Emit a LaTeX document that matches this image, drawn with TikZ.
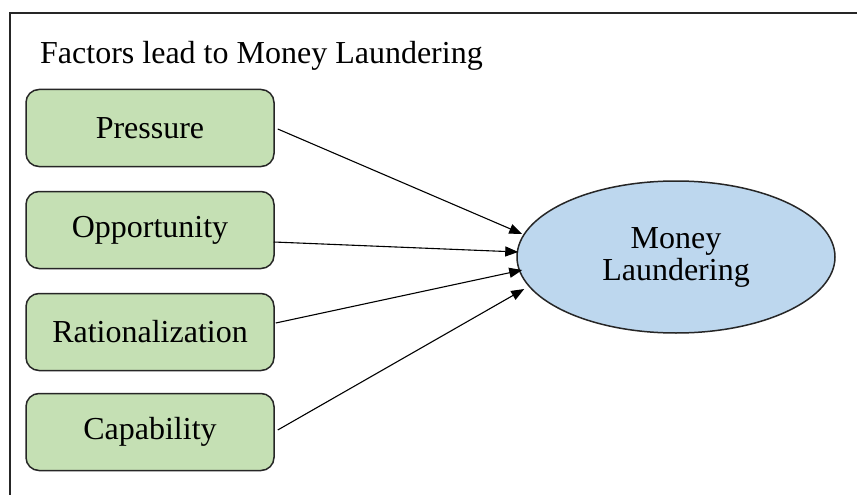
\documentclass[tikz,border=0pt]{standalone}
\usepackage{fontspec}
\setmainfont{Liberation Serif}
\usetikzlibrary{shapes.geometric,arrows.meta}
\definecolor{boxgreen}{HTML}{C5E0B4}
\definecolor{ellblue}{HTML}{BDD7EE}
\definecolor{edge}{HTML}{262626}
\tikzset{
  factor/.style={draw=edge, line width=1.5pt, fill=boxgreen, rounded corners=13pt,
    minimum width=248pt, minimum height=77pt, inner sep=0pt, font=\fontsize{32}{36}\selectfont},
  target/.style={ellipse, draw=edge, line width=1.5pt, fill=ellblue,
    minimum width=318pt, minimum height=152pt, inner sep=0pt, align=center,
    font=\fontsize{32}{32}\selectfont},
  link/.style={line width=1.1pt, black, -{Triangle[length=13pt,width=10pt]}}
}
\begin{document}
\begin{tikzpicture}[x=1pt,y=-1pt]
\useasboundingbox (0,0) rectangle (857,495);
\fill[white] (0,0) rectangle (857,495);
\draw[line width=2pt, edge] (857,13) -- (10,13) -- (10,495);
\node[anchor=base west, font=\fontsize{32}{36}\selectfont, inner sep=0pt] (title) at (40,64) {Factors lead to Money Laundering};
\node[factor] (p) at (150,128) {Pressure};
\node[factor] (o) at (150,230) {Opportunity};
\node[factor] (r) at (150,332) {Rationalization};
\node[factor] (c) at (150,432) {Capability};
\node[target] (ml) at (676,257) {Money\\Laundering};
\draw[link] ([shift={(3pt,-1pt)}]p.east) -- ([shift={(6pt,23pt)}]ml.west);
\draw[link] ([shift={(-1pt,-12pt)}]o.east) -- ([shift={(2pt,5pt)}]ml.west);
\draw[link] ([shift={(1pt,9pt)}]r.east) -- ([shift={(6pt,-13pt)}]ml.west);
\draw[link] ([shift={(3pt,2pt)}]c.east) -- ([shift={(8pt,-32pt)}]ml.west);
\end{tikzpicture}
\end{document}
